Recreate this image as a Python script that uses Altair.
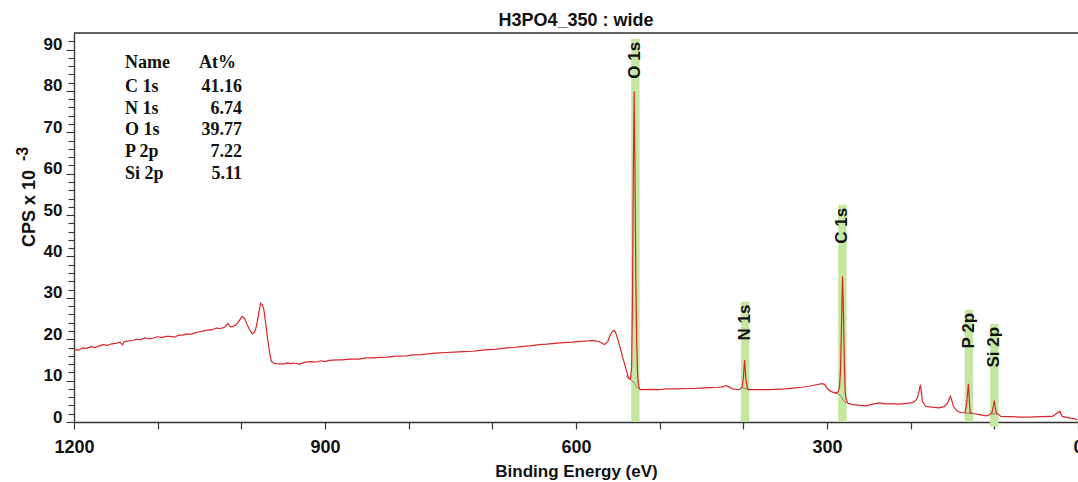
import altair as alt
import pandas as pd

# ---- spectrum (binding energy in eV, counts in CPS x 10^-3) ----
ev = [1200, 1195, 1190, 1185, 1180, 1175, 1170, 1165, 1160, 1155, 1150, 1145, 1142, 1140,
      1135, 1130, 1125, 1120, 1115, 1110, 1105, 1100, 1095, 1090, 1085, 1080, 1075, 1070,
      1065, 1060, 1055, 1050, 1045, 1040, 1035, 1030, 1025, 1020, 1016, 1013, 1010, 1006,
      1002, 999, 996, 994, 990, 987, 984, 982, 979, 977, 975, 973, 971, 969, 966, 964, 961,
      958, 950, 945, 940, 938, 930, 925, 918, 910, 905, 900, 895, 886, 880, 870, 860, 850,
      843, 835, 825, 815, 803, 795, 785, 775, 763, 755, 745, 735, 723, 715, 705, 695, 683,
      675, 665, 655, 644, 635, 625, 615, 604, 595, 585, 580, 572, 566, 562, 559, 556, 554,
      552, 550, 547, 544, 541, 539, 537, 535, 533.5, 532.5, 531.5, 530.5, 529.5, 528.5,
      527.5, 526.5, 525.5, 524, 522, 510, 500, 492, 480, 470, 460, 452, 440, 430, 425, 421,
      418, 413, 405, 401.5, 400, 398.5, 397, 395.5, 394, 385, 373, 360, 350, 341, 330, 320,
      313, 306, 303, 299, 295, 291, 287, 285, 284, 283, 282, 281.4, 280.5, 279.8, 279,
      278.2, 277, 275.5, 270, 260, 253.5, 245, 237.6, 230, 220, 213.7, 205, 197.8, 194,
      192, 190, 188.3, 187, 186, 182, 175, 166, 160, 156, 154, 152.4, 150.5, 149, 146, 144,
      140, 135, 133, 131, 129, 124.2, 118, 110, 106, 103, 101.5, 100, 98.5, 97.6, 92, 80,
      70, 58.5, 45, 30.6, 24.7, 21.8, 18.7, 10.7, 5, 1]
cps = [17.6, 17.3, 17.9, 17.8, 18.2, 18.0, 18.4, 18.7, 18.5, 18.9, 19.0, 19.3, 18.6, 19.4,
       19.6, 19.7, 20.0, 19.9, 20.3, 20.1, 20.3, 20.6, 20.4, 20.7, 20.7, 20.5, 21.0, 21.0,
       21.3, 21.2, 21.6, 21.8, 22.0, 22.2, 22.3, 22.7, 22.6, 22.9, 23.8, 23.0, 23.1, 23.5,
       24.6, 25.5, 25.0, 23.9, 22.3, 21.3, 21.8, 23.1, 26.5, 28.7, 28.3, 27.1, 24.0, 20.7,
       16.5, 14.6, 14.2, 14.1, 14.0, 14.3, 14.1, 14.25, 14.0, 14.4, 14.6, 14.5, 14.8, 14.6,
       14.9, 15.0, 15.0, 15.2, 15.2, 15.5, 15.5, 15.6, 15.7, 15.9, 16.0, 16.2, 16.3, 16.5,
       16.7, 16.8, 16.9, 17.0, 17.1, 17.3, 17.5, 17.6, 17.9, 18.0, 18.2, 18.4, 18.7, 18.8,
       19.0, 19.2, 19.3, 19.5, 19.6, 19.7, 19.4, 18.7, 19.5, 21.1, 22.0, 22.1, 21.3, 19.9,
       17.8, 15.5, 13.4, 11.8, 10.5, 10.3, 13.0, 30.0, 60.0, 79.9, 60.0, 35.0, 20.0, 12.0,
       9.0, 8.0, 7.8, 7.9, 7.8, 8.0, 8.0, 8.1, 8.1, 8.2, 8.3, 8.4, 8.5, 8.8, 8.6, 8.0, 7.8,
       8.4, 10.5, 15.0, 10.5, 8.5, 7.8, 7.8, 7.8, 7.9, 8.0, 8.2, 8.4, 8.7, 9.0, 9.25, 9.1,
       7.9, 7.4, 7.0, 7.2, 8.5, 12.0, 20.0, 30.0, 35.2, 28.0, 19.9, 12.0, 7.0, 5.5, 4.6,
       4.2, 4.0, 3.9, 4.3, 4.6, 4.4, 4.4, 4.3, 4.5, 4.7, 5.2, 5.8, 7.5, 9.0, 7.0, 5.0, 3.8,
       3.6, 3.4, 3.7, 4.6, 5.5, 6.2, 5.0, 3.8, 3.0, 2.6, 2.3, 2.2, 4.6, 9.25, 2.3, 2.0, 1.8,
       1.5, 1.7, 2.2, 3.5, 5.2, 3.0, 2.2, 1.35, 1.3, 1.2, 1.2, 1.3, 1.35, 2.2, 2.6, 1.35,
       1.0, 0.8, 0.55]

# ---- fitted backgrounds under the peaks ----
bg_ev = [540, 536, 533, 530, 528, 525, 522,
         401.5, 394,
         291, 287, 284, 281, 279, 277,
         135.5, 126,
         103, 97]
bg_cps = [11.0, 10.5, 10.0, 9.3, 8.5, 8.0, 7.8,
          8.3, 7.8,
          7.0, 6.8, 6.4, 5.5, 4.9, 4.6,
          2.2, 2.0,
          2.0, 1.9]
bg_seg = ["O 1s"] * 7 + ["N 1s"] * 2 + ["C 1s"] * 6 + ["P 2p"] * 2 + ["Si 2p"] * 2

# ---- peak markers ----
peak_names = ["O 1s", "N 1s", "C 1s", "P 2p", "Si 2p"]
peak_pos = [529.0, 397.9, 281.6, 130.4, 100.0]
peak_top = [92.6, 29.1, 52.5, 27.1, 23.7]
peak_bottom = [0, 0, 0, 0, -1.1]

# ---- quantification table ----
table_names = ["C 1s", "N 1s", "O 1s", "P 2p", "Si 2p"]
table_at = ["41.16", "6.74", "39.77", "7.22", "5.11"]

x_ticks = list(range(0, 1201, 100))
y_ticks = list(range(0, 93, 2))

W, H = 1004, 389
FONT = "Liberation Sans"

spec = pd.DataFrame({"ev": ev, "cps": cps})
bg = pd.DataFrame({"ev": bg_ev, "cps": bg_cps, "seg": bg_seg})
peaks = pd.DataFrame({"name": peak_names, "ev": peak_pos, "top": peak_top, "bottom": peak_bottom})
table = pd.DataFrame({"name": table_names, "at": table_at, "row": list(range(len(table_names)))})

xscale = alt.Scale(domain=[0, 1200], reverse=True, nice=False, zero=False)
yscale = alt.Scale(domain=[0, 94], nice=False, zero=False)

xaxis = alt.Axis(
    values=x_ticks, format="d",
    labelExpr="datum.value % 300 == 0 ? datum.label : ''",
    grid=False, tickSize=7, tickColor="#333", domainColor="#333", domainWidth=1.3, tickWidth=1.2,
    labelFont=FONT, labelFontSize=18, labelFontWeight="bold", labelColor="#111",
    labelPadding=9, labelFlush=False, labelOverlap=False,
    title="Binding Energy (eV)", titleFont=FONT, titleFontSize=17, titleFontWeight="bold",
    titleColor="#111", titleBaseline="alphabetic", titleY=54, titleAnchor="middle",
)
yaxis = alt.Axis(
    values=y_ticks,
    labelExpr="datum.value % 10 == 0 ? datum.label : ''",
    tickSize=alt.condition("datum.value % 10 == 0", alt.value(8), alt.value(6)),
    grid=False, tickColor="#333", domainColor="#333", domainWidth=1.3, tickWidth=1.1,
    labelFont=FONT, labelFontSize=17, labelFontWeight="bold", labelColor="#111",
    labelBaseline="alphabetic", labelPadding=4, labelFlush=False, labelOverlap=False,
    title="CPS x 10", titleFont=FONT, titleFontSize=18, titleFontWeight="bold",
    titleColor="#111", titleAngle=270, titleAlign="center", titleBaseline="middle",
    titleX=-45, titleY=175,
)


def X(field):
    return alt.X(field, type="quantitative", scale=xscale, axis=xaxis)


def Y(field):
    return alt.Y(field, type="quantitative", scale=yscale, axis=yaxis)


bars = alt.Chart(peaks).mark_rule(color="#c6e7a1", strokeWidth=8.5).encode(
    x=X("ev"), y=Y("top"), y2="bottom:Q"
)

bgline = alt.Chart(bg).mark_line(color="#8a826e", strokeWidth=1).encode(
    x=X("ev"), y=Y("cps"), detail="seg:N"
)

line = alt.Chart(spec).mark_line(color="#d9262b", strokeWidth=1.2, interpolate="linear").encode(
    x=X("ev"), y=Y("cps"), order="ev:Q"
)

labels = alt.Chart(peaks).mark_text(
    angle=270, align="right", baseline="middle", dx=-3,
    font=FONT, fontSize=17, fontWeight="bold", color="#111"
).encode(x=X("ev"), y=Y("top"), text="name:N")

frame_top = alt.Chart(pd.DataFrame({"k": [0]})).mark_rule(color="#333", strokeWidth=1.3).encode(
    x=alt.value(0), x2=alt.value(W), y=alt.value(0)
)

sup = alt.Chart(pd.DataFrame({"t": ["-3"]})).mark_text(
    angle=270, align="center", baseline="middle", font=FONT, fontSize=16, fontWeight="bold",
    color="#111"
).encode(x=alt.value(-51), y=alt.value(121), text="t:N")

tbl_font = "Liberation Serif"
header_name = alt.Chart(pd.DataFrame({"t": ["Name"]})).mark_text(
    align="left", baseline="alphabetic", font=tbl_font, fontSize=18, fontWeight="bold", color="#111"
).encode(x=alt.value(51), y=alt.value(35.3), text="t:N")
header_at = alt.Chart(pd.DataFrame({"t": ["At%"]})).mark_text(
    align="left", baseline="alphabetic", font=tbl_font, fontSize=18, fontWeight="bold", color="#111"
).encode(x=alt.value(125), y=alt.value(35.3), text="t:N")

tbl_base = alt.Chart(table).transform_calculate(ypix="58.7 + datum.row * 21.8")
tbl_names = tbl_base.mark_text(
    align="left", baseline="alphabetic", font=tbl_font, fontSize=18, fontWeight="bold", color="#111"
).encode(x=alt.value(51), y=alt.Y("ypix:Q", scale=None), text="name:N")
tbl_vals = tbl_base.mark_text(
    align="right", baseline="alphabetic", font=tbl_font, fontSize=18, fontWeight="bold", color="#111"
).encode(x=alt.value(168), y=alt.Y("ypix:Q", scale=None), text="at:N")

chart = alt.layer(
    bars, bgline, line, labels, frame_top, sup, header_name, header_at, tbl_names, tbl_vals
).properties(
    width=W, height=H,
    autosize=alt.AutoSizeParams(type="none"),
    padding={"left": 74, "top": 33, "right": 0, "bottom": 60},
    title=alt.TitleParams(
        "H3PO4_350 : wide", font=FONT, fontSize=18, fontWeight="bold", color="#111",
        anchor="middle", offset=-3
    ),
).configure_view(stroke=None).configure(background="white")

chart.save("out.html", embed_options={"renderer": "svg", "actions": False})
